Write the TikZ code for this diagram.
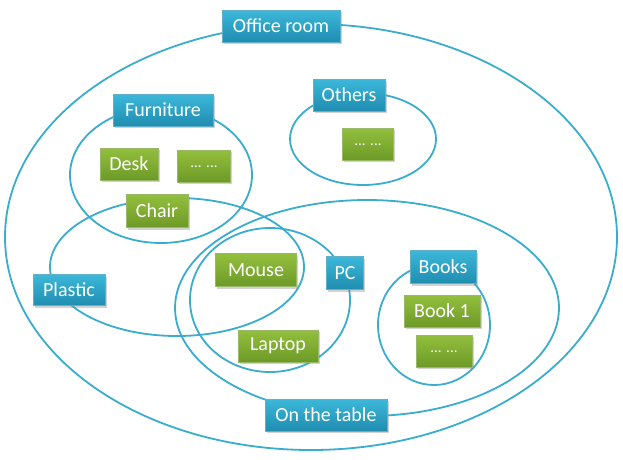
\documentclass[tikz,border=0pt]{standalone}
\usepackage{fontspec}
\setmainfont{Carlito}
\usetikzlibrary{shadows}
\definecolor{ring}{HTML}{3AADCF}
\definecolor{bluetop}{HTML}{3CB8DA}
\definecolor{bluebot}{HTML}{1F8DB0}
\definecolor{greentop}{HTML}{93BF3E}
\definecolor{greenbot}{HTML}{6D9A27}
\begin{document}
\begin{tikzpicture}[x=1pt,y=-1pt,
  ringline/.style={draw=ring,line width=1.8pt},
  bluebox/.style={rectangle,draw=bluebot!70!white,line width=0.6pt,top color=bluetop,bottom color=bluebot,
    text=white,font=\fontsize{20}{22}\selectfont,inner sep=0pt,
    drop shadow={shadow xshift=1.5pt,shadow yshift=-2pt,opacity=0.35}},
  greenbox/.style={rectangle,draw=greenbot!70!white,line width=0.6pt,top color=greentop,bottom color=greenbot,
    text=white,font=\fontsize{20}{22}\selectfont,inner sep=0pt,
    drop shadow={shadow xshift=1.5pt,shadow yshift=-2pt,opacity=0.35}},
  dotsfont/.style={font=\fontsize{15}{17}\selectfont}]
\useasboundingbox (0,0) rectangle (623,459);
\fill[white] (0,0) rectangle (623,459);
% rings
\draw[ringline] (311,237) ellipse [x radius=306, y radius=213];
\draw[ringline] (161,175) ellipse [x radius=91, y radius=68];
\draw[ringline] (363,139) ellipse [x radius=73, y radius=46];
\draw[ringline] (177,267) ellipse [x radius=127, y radius=69];
\draw[ringline] (367,308) ellipse [x radius=192, y radius=108];
\draw[ringline] (270,300) ellipse [x radius=80, y radius=72];
\draw[ringline] (434,325) ellipse [x radius=56, y radius=60];
% blue labels
\node[bluebox,minimum width=118,minimum height=32] (office) at (281,26) {Office room};
\node[bluebox,minimum width=100,minimum height=32] (furn) at (163,110) {Furniture};
\node[bluebox,minimum width=72,minimum height=32] (others) at (349,95) {Others};
\node[bluebox,minimum width=72,minimum height=31] (plastic) at (69,290) {Plastic};
\node[bluebox,minimum width=37,minimum height=33] (pc) at (345,273) {PC};
\node[bluebox,minimum width=66,minimum height=33] (books) at (443,267) {Books};
\node[bluebox,minimum width=122,minimum height=32] (table) at (326,415) {On the table};
% green items
\node[greenbox,minimum width=58,minimum height=32] (desk) at (129,164) {Desk};
\node[greenbox,dotsfont,minimum width=53,minimum height=32] (fdots) at (204,166) {\raisebox{-3pt}{... ...}};
\node[greenbox,minimum width=62,minimum height=33] (chair) at (157,211) {Chair};
\node[greenbox,dotsfont,minimum width=51,minimum height=32] (odots) at (368,144) {\raisebox{-3pt}{... ...}};
\node[greenbox,minimum width=81,minimum height=33] (mouse) at (256,270) {Mouse};
\node[greenbox,minimum width=80,minimum height=32] (laptop) at (278,346) {Laptop};
\node[greenbox,minimum width=76,minimum height=32] (book1) at (442,311) {Book 1};
\node[greenbox,dotsfont,minimum width=56,minimum height=32] (bdots) at (444,351) {\raisebox{-3pt}{... ...}};
\end{tikzpicture}
\end{document}
